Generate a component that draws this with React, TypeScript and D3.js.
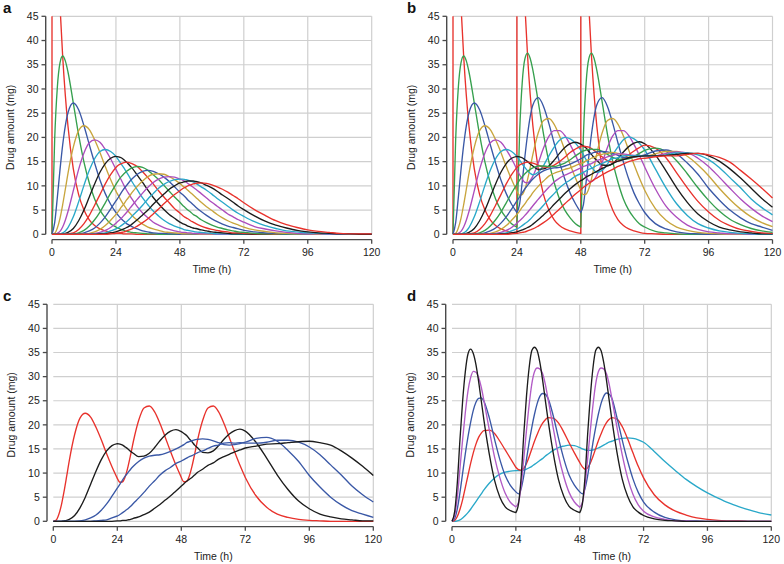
import React from "react";
import * as d3 from "d3";

// ---------- time grids (h) ----------
const TIME_H = [0,1,2,3,4,5,6,8,10,12,14,16,18,20,22, 24,25,26,27,28,29,30,32,34,36,38,40,42,44,46, 48,49,50,51,52,53,54,56,58,60,62,64,66,68,70, 72,76,80,84,88,92,96,100,104,108,112,116,120];
const TIME_D = [0,1,2,3,4,5,6,7,8,9,10,11,12,14,16,18,20,22, 24,25,26,27,28,29,30,31,32,33,34,35,36,38,40,42,44,46, 48,49,50,51,52,53,54,55,56,57,58,59,60,62,64,66,68,70, 72,76,80,84,88,92,96,100,104,108,112,116,120];
const X_TICKS = [0,24,48,72,96,120];
const Y_TICKS = [0,5,10,15,20,25,30,35,40,45];
const DOSES_SINGLE = [0];
const DOSES_REPEAT = [0,24,48];

// ---------- panel a: single dose, compartments 0..14 (mg) ----------
const A0 = [100,77.9,60.7,47.2,36.8,28.7,22.3,13.5,8.2,5.0,3.0,1.8,1.1,0.7,0.4, 0.2,0.2,0.2,0.1,0.1,0.1,0.1,0,0,0,0,0,0,0,0, 0,0,0,0,0,0,0,0,0,0,0,0,0,0,0, 0,0,0,0,0,0,0,0,0,0,0,0,0];
const A0_PRE = [0];
const A1 = [0,19.5,30.3,35.4,36.8,35.8,33.5,27.1,20.5,14.9,10.6,7.3,5.0,3.4,2.2, 1.5,1.2,1.0,0.8,0.6,0.5,0.4,0.3,0.2,0.1,0.1,0,0,0,0, 0,0,0,0,0,0,0,0,0,0,0,0,0,0,0, 0,0,0,0,0,0,0,0,0,0,0,0,0];
const A2 = [0,2.4,7.6,13.3,18.4,22.4,25.1,27.1,25.7,22.4,18.5,14.7,11.2,8.4,6.2, 4.5,3.8,3.2,2.7,2.2,1.9,1.6,1.1,0.7,0.5,0.3,0.2,0.2,0.1,0.1, 0,0,0,0,0,0,0,0,0,0,0,0,0,0,0, 0,0,0,0,0,0,0,0,0,0,0,0,0];
const A3 = [0,0.2,1.3,3.3,6.1,9.3,12.6,18.0,21.4,22.4,21.6,19.5,16.9,14.0,11.3, 8.9,7.9,6.9,6.0,5.2,4.5,3.9,2.9,2.1,1.5,1.1,0.8,0.5,0.4,0.3, 0.2,0.1,0.1,0.1,0.1,0.1,0.1,0,0,0,0,0,0,0,0, 0,0,0,0,0,0,0,0,0,0,0,0,0];
const A4 = [0,0,0.2,0.6,1.5,2.9,4.7,9.0,13.4,16.8,18.9,19.5,19.0,17.5,15.6, 13.4,12.3,11.2,10.1,9.1,8.2,7.3,5.7,4.4,3.4,2.5,1.9,1.4,1.0,0.7, 0.5,0.4,0.4,0.3,0.3,0.2,0.2,0.1,0.1,0.1,0,0,0,0,0, 0,0,0,0,0,0,0,0,0,0,0,0,0];
const A5 = [0,0,0,0.1,0.3,0.7,1.4,3.6,6.7,10.1,13.2,15.6,17.1,17.5,17.1, 16.1,15.3,14.5,13.7,12.8,11.9,10.9,9.2,7.5,6.1,4.8,3.8,2.9,2.2,1.7, 1.3,1.1,0.9,0.8,0.7,0.6,0.5,0.4,0.3,0.2,0.1,0.1,0.1,0,0, 0,0,0,0,0,0,0,0,0,0,0,0,0];
const A6 = [0,0,0,0,0.1,0.2,0.4,1.2,2.8,5.0,7.7,10.4,12.8,14.6,15.7, 16.1,16.0,15.8,15.4,14.9,14.3,13.7,12.2,10.7,9.1,7.6,6.3,5.1,4.1,3.3, 2.5,2.2,2.0,1.7,1.5,1.3,1.2,0.9,0.7,0.5,0.4,0.3,0.2,0.1,0.1, 0.1,0,0,0,0,0,0,0,0,0,0,0,0];
const A7 = [0,0,0,0,0,0,0.1,0.3,1.0,2.2,3.9,6.0,8.2,10.4,12.3, 13.8,14.3,14.6,14.8,14.9,14.8,14.6,14.0,12.9,11.7,10.4,9.0,7.7,6.5,5.3, 4.4,3.9,3.5,3.2,2.8,2.5,2.2,1.7,1.3,1.0,0.8,0.6,0.5,0.3,0.3, 0.2,0.1,0.1,0,0,0,0,0,0,0,0,0,0];
const A8 = [0,0,0,0,0,0,0,0.1,0.3,0.8,1.7,3.0,4.6,6.5,8.5, 10.3,11.2,11.9,12.5,13.0,13.4,13.7,14.0,13.8,13.2,12.3,11.3,10.1,8.9,7.7, 6.6,6.0,5.5,5.0,4.6,4.1,3.8,3.0,2.4,1.9,1.5,1.2,0.9,0.7,0.5, 0.4,0.2,0.1,0.1,0,0,0,0,0,0,0,0,0];
const A9 = [0,0,0,0,0,0,0,0,0.1,0.3,0.7,1.3,2.3,3.6,5.2, 6.9,7.7,8.6,9.4,10.1,10.8,11.4,12.4,13.0,13.2,13.0,12.5,11.8,10.9,9.8, 8.7,8.2,7.7,7.1,6.6,6.1,5.6,4.7,3.9,3.2,2.6,2.1,1.7,1.4,1.1, 0.8,0.5,0.3,0.2,0.1,0.1,0,0,0,0,0,0,0];
const A10 = [0,0,0,0,0,0,0,0,0,0.1,0.2,0.5,1.0,1.8,2.9, 4.1,4.8,5.6,6.3,7.1,7.8,8.6,9.9,11.0,11.9,12.4,12.5,12.4,11.9,11.3, 10.5,10.0,9.6,9.1,8.6,8.1,7.6,6.6,5.7,4.9,4.1,3.4,2.8,2.3,1.9, 1.5,0.9,0.6,0.3,0.2,0.1,0.1,0,0,0,0,0,0];
const A11 = [0,0,0,0,0,0,0,0,0,0,0.1,0.2,0.4,0.8,1.4, 2.3,2.8,3.3,3.9,4.5,5.2,5.9,7.2,8.5,9.7,10.7,11.4,11.8,11.9,11.8, 11.4,11.2,10.9,10.5,10.1,9.7,9.3,8.4,7.5,6.6,5.8,5.0,4.2,3.6,3.0, 2.5,1.6,1.1,0.7,0.4,0.2,0.1,0.1,0,0,0,0,0];
const A12 = [0,0,0,0,0,0,0,0,0,0,0,0.1,0.2,0.3,0.7, 1.1,1.4,1.8,2.2,2.6,3.1,3.7,4.8,6.0,7.3,8.4,9.5,10.3,10.9,11.3, 11.4,11.4,11.3,11.2,11.0,10.8,10.5,9.8,9.1,8.3,7.4,6.6,5.8,5.0,4.3, 3.7,2.6,1.8,1.2,0.7,0.5,0.3,0.2,0.1,0.1,0,0,0];
const A13 = [0,0,0,0,0,0,0,0,0,0,0,0,0.1,0.1,0.3, 0.5,0.7,0.9,1.1,1.4,1.7,2.1,3.0,4.0,5.0,6.2,7.3,8.3,9.3,10.0, 10.6,10.7,10.9,11.0,11.0,11.0,10.9,10.6,10.1,9.6,8.9,8.1,7.4,6.6,5.8, 5.1,3.8,2.7,1.9,1.3,0.8,0.5,0.3,0.2,0.1,0.1,0,0];
const A14 = [0,0,0,0,0,0,0,0,0,0,0,0,0,0,0.1, 0.2,0.3,0.4,0.5,0.7,0.9,1.1,1.7,2.4,3.2,4.2,5.2,6.3,7.3,8.2, 9.0,9.4,9.7,10.0,10.2,10.4,10.5,10.6,10.5,10.2,9.8,9.3,8.7,8.0,7.3, 6.5,5.1,3.9,2.8,2.0,1.4,0.9,0.6,0.4,0.2,0.1,0.1,0.1];

// ---------- panel b: three doses (0, 24, 48 h), compartments 0..15 (mg) ----------
const B0 = [100,77.9,60.7,47.2,36.8,28.7,22.3,13.5,8.2,5.0,3.0,1.8,1.1,0.7,0.4, 100.2,78.1,60.9,47.3,36.9,28.8,22.4,13.5,8.2,5.0,3.0,1.8,1.1,0.7,0.4, 100.2,78.1,60.9,47.3,36.9,28.8,22.4,13.5,8.2,5.0,3.0,1.8,1.1,0.7,0.4, 0.2,0.1,0,0,0,0,0,0,0,0,0,0,0];
const B0_PRE = [0,0.2,0.2];
const B1 = [0,19.5,30.3,35.4,36.8,35.8,33.5,27.1,20.5,14.9,10.6,7.3,5.0,3.4,2.2, 1.5,20.7,31.3,36.2,37.4,36.3,33.9,27.4,20.7,15.0,10.7,7.3,5.0,3.4,2.2, 1.5,20.7,31.3,36.2,37.4,36.3,33.9,27.4,20.7,15.0,10.7,7.3,5.0,3.4,2.2, 1.5,0.6,0.3,0.1,0,0,0,0,0,0,0,0,0];
const B2 = [0,2.4,7.6,13.3,18.4,22.4,25.1,27.1,25.7,22.4,18.5,14.7,11.2,8.4,6.2, 4.5,6.2,10.8,16.0,20.6,24.3,26.7,28.2,26.4,22.9,18.8,14.9,11.4,8.5,6.3, 4.5,6.2,10.8,16.0,20.6,24.3,26.7,28.2,26.4,22.9,18.8,14.9,11.4,8.5,6.3, 4.5,2.2,1.1,0.5,0.2,0.1,0,0,0,0,0,0,0];
const B3 = [0,0.2,1.3,3.3,6.1,9.3,12.6,18.0,21.4,22.4,21.6,19.5,16.9,14.0,11.3, 8.9,8.1,8.2,9.3,11.3,13.8,16.5,20.9,23.5,23.9,22.7,20.3,17.4,14.4,11.6, 9.1,8.2,8.3,9.4,11.4,13.9,16.6,20.9,23.5,23.9,22.7,20.3,17.4,14.4,11.6, 9.1,5.3,2.9,1.5,0.8,0.4,0.2,0.1,0,0,0,0,0];
const B4 = [0,0,0.2,0.6,1.5,2.9,4.7,9.0,13.4,16.8,18.9,19.5,19.0,17.5,15.6, 13.4,12.3,11.4,10.7,10.6,11.1,12.0,14.7,17.8,20.2,21.4,21.4,20.4,18.5,16.3, 13.9,12.7,11.8,11.0,10.9,11.3,12.2,14.8,17.9,20.3,21.4,21.4,20.4,18.5,16.3, 13.9,9.4,5.8,3.5,1.9,1.0,0.5,0.3,0.1,0.1,0,0,0];
const B5 = [0,0,0,0.1,0.3,0.7,1.4,3.6,6.7,10.1,13.2,15.6,17.1,17.5,17.1, 16.1,15.3,14.5,13.8,13.1,12.6,12.3,12.8,14.2,16.2,18.0,19.4,20.0,19.7,18.8, 17.4,16.4,15.4,14.6,13.8,13.2,12.8,13.2,14.5,16.4,18.1,19.5,20.1,19.7,18.8, 17.4,13.5,9.6,6.3,3.9,2.2,1.3,0.7,0.4,0.2,0.1,0,0];
const B6 = [0,0,0,0,0.1,0.2,0.4,1.2,2.8,5.0,7.7,10.4,12.8,14.6,15.7, 16.1,16.0,15.8,15.4,15.0,14.5,14.1,13.4,13.5,14.1,15.3,16.7,17.9,18.7,19.0, 18.6,18.2,17.8,17.1,16.5,15.8,15.3,14.3,14.2,14.6,15.7,17.0,18.1,18.8,19.1, 18.7,16.4,13.1,9.6,6.6,4.2,2.6,1.5,0.9,0.5,0.3,0.1,0.1];
const B7 = [0,0,0,0,0,0,0.1,0.3,1.0,2.2,3.9,6.0,8.2,10.4,12.3, 13.8,14.3,14.6,14.8,14.9,14.8,14.7,14.3,13.9,13.9,14.3,15.0,15.9,16.9,17.6, 18.2,18.2,18.1,18.0,17.7,17.3,16.9,16.0,15.2,14.9,15.1,15.6,16.4,17.2,17.9, 18.4,17.8,15.8,12.7,9.6,6.8,4.6,2.9,1.8,1.0,0.6,0.3,0.2];
const B8 = [0,0,0,0,0,0,0,0.1,0.3,0.8,1.7,3.0,4.6,6.5,8.5, 10.3,11.2,11.9,12.5,13.0,13.4,13.7,14.1,14.1,14.0,14.0,14.3,14.7,15.4,16.2, 16.9,17.2,17.4,17.5,17.6,17.5,17.5,17.1,16.5,15.9,15.5,15.5,15.6,16.1,16.7, 17.3,17.8,17.1,15.2,12.5,9.6,7.0,4.8,3.1,2.0,1.2,0.7,0.4];
const B9 = [0,0,0,0,0,0,0,0,0.1,0.3,0.7,1.3,2.3,3.6,5.2, 6.9,7.7,8.6,9.4,10.1,10.8,11.4,12.4,13.1,13.5,13.7,13.8,14.1,14.5,15.0, 15.6,15.9,16.3,16.5,16.7,16.9,17.0,17.1,17.0,16.7,16.3,15.9,15.8,15.9,16.1, 16.4,17.2,17.4,16.6,14.7,12.4,9.5,7.1,5.0,3.4,2.2,1.5,0.8];
const B10 = [0,0,0,0,0,0,0,0,0,0.1,0.2,0.5,1.0,1.8,2.9, 4.1,4.8,5.6,6.3,7.1,7.8,8.6,9.9,11.0,12.0,12.6,13.0,13.4,13.7,14.2, 14.6,14.8,15.2,15.4,15.7,15.9,16.2,16.5,16.7,16.9,16.7,16.4,16.2,16.0,16.1, 16.1,16.6,17.1,17.1,16.1,14.3,12.1,9.5,7.2,5.2,3.6,2.4,1.6];
const B11 = [0,0,0,0,0,0,0,0,0,0,0.1,0.2,0.4,0.8,1.4, 2.3,2.8,3.3,3.9,4.5,5.2,5.9,7.2,8.5,9.7,10.8,11.6,12.2,12.7,13.2, 13.7,14.0,14.2,14.4,14.6,14.9,15.2,15.6,16.0,16.3,16.6,16.6,16.4,16.3,16.2, 16.2,16.2,16.7,17.0,16.8,15.7,14.0,11.8,9.5,7.3,5.4,3.8,2.6];
const B12 = [0,0,0,0,0,0,0,0,0,0,0,0.1,0.2,0.3,0.7, 1.1,1.4,1.8,2.2,2.6,3.1,3.7,4.8,6.0,7.3,8.4,9.6,10.5,11.2,12.0, 12.5,12.8,13.1,13.4,13.6,13.9,14.2,14.6,15.1,15.6,15.8,16.2,16.3,16.2,16.3, 16.2,16.2,16.4,16.8,16.8,16.4,15.4,13.8,11.7,9.6,7.3,5.5,4.0];
const B13 = [0,0,0,0,0,0,0,0,0,0,0,0,0.1,0.1,0.3, 0.5,0.7,0.9,1.1,1.4,1.7,2.1,3.0,4.0,5.0,6.2,7.3,8.4,9.4,10.3, 11.1,11.4,11.8,12.1,12.4,12.7,13.0,13.6,14.1,14.6,15.1,15.4,15.8,16.0,16.1, 16.2,16.2,16.3,16.5,16.7,16.7,16.2,15.1,13.5,11.6,9.5,7.4,5.6];
const B14 = [0,0,0,0,0,0,0,0,0,0,0,0,0,0,0.1, 0.2,0.3,0.4,0.5,0.7,0.9,1.1,1.7,2.4,3.2,4.2,5.2,6.3,7.3,8.3, 9.2,9.7,10.1,10.5,10.9,11.3,11.6,12.3,12.9,13.4,14.0,14.5,15.0,15.3,15.6, 15.7,16.0,16.2,16.2,16.5,16.7,16.4,15.9,14.9,13.2,11.4,9.5,7.5];
const B15 = [0,0,0,0,0,0,0,0,0,0,0,0,0,0,0, 0.1,0.1,0.2,0.2,0.3,0.4,0.6,0.9,1.4,1.9,2.7,3.5,4.4,5.3,6.3, 7.3,7.8,8.3,8.7,9.1,9.6,10.1,10.8,11.6,12.1,12.9,13.4,13.9,14.4,14.8, 15.2,15.6,16.0,16.1,16.3,16.5,16.6,16.3,15.8,14.6,13.1,11.4,9.5];

// ---------- panel d (mg), on TIME_D ----------
const D_BLACK = [0,2,8,17,25,31,34.7,35.7,34.8,32.5,29,25,21,14,8.5,5.0,3.0,2.2, 1.8,3.6,9.3,18.2,26,31.9,35.4,36.1,35.4,33,29.5,25.4,21.4,14.3,8.7,5.2,3.1,2.3, 1.8,3.6,9.3,18.2,26,31.9,35.4,36.1,35.4,33,29.5,25.4,21.4,14.3,8.7,5.2,3.0,1.9, 1.2,0.5,0.2,0.1,0,0,0,0,0,0,0,0,0];
const D_PURPLE = [0,1.2,5,11,17,22.5,27,29.8,31.1,30.9,29.8,27.8,25,19,13.3,9,5.8,3.9, 3.0,3.9,7.4,13.1,18.9,24.2,28.5,31.0,31.8,31.6,30.7,28.6,25.7,19.5,13.7,9.3,6.0,4.0, 2.9,3.9,7.4,13.1,18.9,24.2,28.5,31.0,31.8,31.6,30.7,28.6,25.7,19.5,13.7,9.0,5.6,3.4, 2.1,0.9,0.4,0.1,0.1,0,0,0,0,0,0,0,0];
const D_BLUE = [0,0.6,2.6,6,10,14,17.5,20.5,23,24.7,25.5,25.6,24.9,21.5,17,12.8,9.5,7.4, 6.1,5.7,6.8,9.5,12.9,16.4,19.5,22.2,24.4,25.9,26.5,26.4,25.6,22.0,17.3,13.0,9.6,7.5, 6.1,5.7,6.8,9.5,12.9,16.4,19.5,22.2,24.4,25.9,26.6,26.4,25.6,21.5,16.8,12.5,8.8,6.0, 4.0,1.9,0.8,0.3,0.1,0.1,0,0,0,0,0,0,0];
const D_RED = [0,0.2,1.0,2.5,4.5,7,9.5,12,14.2,16,17.4,18.3,18.8,18.9,18.2,16.6,14.8,13.0, 11.2,10.7,10.6,11.0,12.0,13.4,15.0,16.6,18.0,19.3,20.3,21.0,21.5,21.4,20.4,18.5,16.3,14.2, 12.2,11.3,10.8,11.1,12.1,13.5,15.1,16.7,18.1,19.4,20.4,21.1,21.5,21.2,19.6,17.1,14.2,11.4, 9.0,5.5,3.4,2.1,1.3,0.7,0.4,0.2,0.1,0.1,0,0,0];
const D_CYAN = [0,0,0.1,0.3,0.7,1.2,1.8,2.5,3.3,4.1,4.9,5.7,6.5,7.9,9.0,9.8,10.2,10.4, 10.5,10.5,10.5,10.6,10.8,11.1,11.4,11.8,12.2,12.6,13.0,13.5,13.9,14.7,15.3,15.6,15.8,15.7, 15.3,15.0,14.8,14.7,14.7,14.8,15.0,15.2,15.5,15.8,16.1,16.4,16.6,17.0,17.2,17.3,17.2,16.9, 16.4,14.5,12.4,10.5,8.7,7.2,5.9,4.8,3.8,3.0,2.3,1.7,1.3];

// ---------- styles ----------
const RED = "#e8322c", GREEN = "#36a04e", BLUE = "#3a58a6", OLIVE = "#c8a53d",
  PURPLE = "#ad4dbd", CYAN = "#29a8c9", BLACK = "#1c1c1c";
const CYCLE = [RED, GREEN, BLUE, OLIVE, PURPLE, CYAN, BLACK];
const FONT = "'Liberation Sans', Arial, Helvetica, sans-serif";

type Series = { values: number[]; color: string; pre?: number[] };
type PanelCfg = {
  id: string; left: number; top: number; width: number; height: number;
  times: number[]; doses: number[]; series: Series[];
};

const A_ALL = [A0, A1, A2, A3, A4, A5, A6, A7, A8, A9, A10, A11, A12, A13, A14];
const B_ALL = [B0, B1, B2, B3, B4, B5, B6, B7, B8, B9, B10, B11, B12, B13, B14];

const PANELS: PanelCfg[] = [
  { id: "a", left: 52, top: 16.3, width: 319.7, height: 218, times: TIME_H, doses: DOSES_SINGLE,
    series: A_ALL.map((v, i) => ({ values: v, color: CYCLE[i % 7], pre: i === 0 ? A0_PRE : undefined })) },
  { id: "b", left: 453, top: 16.3, width: 319.5, height: 218, times: TIME_H, doses: DOSES_REPEAT,
    series: B_ALL.map((v, i) => ({ values: v, color: CYCLE[i % 7], pre: i === 0 ? B0_PRE : undefined })) },
  { id: "c", left: 53.3, top: 304.3, width: 320, height: 217, times: TIME_H, doses: DOSES_REPEAT,
    series: [
      { values: B3, color: RED }, { values: B6, color: BLACK }, { values: B9, color: BLUE },
      { values: B12, color: BLUE }, { values: B15, color: BLACK },
    ] },
  { id: "d", left: 452, top: 304.3, width: 319.3, height: 217, times: TIME_D, doses: DOSES_REPEAT,
    series: [
      { values: D_CYAN, color: CYAN }, { values: D_RED, color: RED }, { values: D_BLUE, color: BLUE },
      { values: D_PURPLE, color: "#b25cc6" }, { values: D_BLACK, color: BLACK },
    ] },
];

function buildPath(times: number[], s: Series, doses: number[], x: any, y: any) {
  const line = d3.line<[number, number]>().x((d) => x(d[0])).y((d) => y(d[1])).curve(d3.curveMonotoneX);
  const segs: [number, number][][] = [];
  let cur: [number, number][] = [];
  times.forEach((t, i) => {
    const di = doses.indexOf(t);
    if (di >= 0) {
      const pv = s.pre ? s.pre[di] : s.values[i];
      cur.push([t, pv]);
      segs.push(cur);
      cur = [];
    }
    cur.push([t, s.values[i]]);
  });
  segs.push(cur);
  return segs
    .map((seg, k) => {
      let p = seg.length > 1 ? line(seg) || "" : `M${x(seg[0][0])},${y(seg[0][1])}`;
      p = p.replace(/Z$/, "");
      return k === 0 ? p : "L" + p.slice(1);
    })
    .join("");
}

function Panel({ cfg }: { cfg: PanelCfg }) {
  const x = d3.scaleLinear().domain([0, 120]).range([cfg.left, cfg.left + cfg.width]);
  const y = d3.scaleLinear().domain([0, 45]).range([cfg.top + cfg.height, cfg.top]);
  const bottom = cfg.top + cfg.height;
  const axX = cfg.left - 6.3;
  const axY = bottom + 5.3;
  const clipId = `clip-${cfg.id}`;
  return (
    <g>
      <defs>
        <clipPath id={clipId}>
          <rect x={cfg.left - 1.5} y={cfg.top} width={cfg.width + 3} height={cfg.height + 1.5} />
        </clipPath>
      </defs>
      {Y_TICKS.map((v) => (
        <line key={"gy" + v} x1={x(0)} x2={x(120)} y1={y(v)} y2={y(v)} stroke="#cfcfcf" strokeWidth={1.2} />
      ))}
      {X_TICKS.filter((t) => t > 0).map((t) => (
        <line key={"gx" + t} x1={x(t)} x2={x(t)} y1={y(45)} y2={y(0)} stroke="#cfcfcf" strokeWidth={1.2} />
      ))}
      <g clipPath={`url(#${clipId})`}>
        {cfg.series.map((s, i) => (
          <path key={i} d={buildPath(cfg.times, s, cfg.doses, x, y)} fill="none" stroke={s.color}
            strokeWidth={1.35} strokeLinejoin="round" />
        ))}
      </g>
      <line x1={axX} x2={axX} y1={y(45)} y2={y(0)} stroke="#4a4a4a" strokeWidth={1.4} />
      {Y_TICKS.map((v) => (
        <g key={"ty" + v}>
          <line x1={axX - 4.2} x2={axX} y1={y(v)} y2={y(v)} stroke="#4a4a4a" strokeWidth={1.3} />
          <text x={cfg.left - 13.5} y={y(v)} dy="0.35em" textAnchor="end" fontSize={10.5} fontFamily={FONT} fill="#222">
            {v}
          </text>
        </g>
      ))}
      <line x1={x(0)} x2={x(120)} y1={axY} y2={axY} stroke="#4a4a4a" strokeWidth={1.4} />
      {X_TICKS.map((t) => (
        <g key={"tx" + t}>
          <line x1={x(t)} x2={x(t)} y1={axY} y2={axY + 4.2} stroke="#4a4a4a" strokeWidth={1.3} />
          <text x={x(t)} y={bottom + 21.5} textAnchor="middle" fontSize={10.5} fontFamily={FONT} fill="#222">
            {t}
          </text>
        </g>
      ))}
      <text x={(x(0) + x(120)) / 2} y={bottom + 38.5} textAnchor="middle" fontSize={10.5} fontFamily={FONT} fill="#222">
        Time (h)
      </text>
      <text transform={`translate(${cfg.left - 38},${(cfg.top + bottom) / 2 + 2}) rotate(-90)`} textAnchor="middle"
        fontSize={10.5} fontFamily={FONT} fill="#222">
        Drug amount (mg)
      </text>
      <text x={cfg.id === "a" || cfg.id === "c" ? 3 : 407} y={cfg.top - 3.5} fontSize={15} fontWeight="bold"
        fontFamily={FONT} fill="#111">
        {cfg.id}
      </text>
    </g>
  );
}

export default function App() {
  return (
    <svg width={784} height={564} style={{ position: "absolute", left: 0, top: 0, background: "#fff" }}>
      <rect x={0} y={0} width={784} height={564} fill="#fff" />
      {PANELS.map((p) => (
        <Panel key={p.id} cfg={p} />
      ))}
    </svg>
  );
}
